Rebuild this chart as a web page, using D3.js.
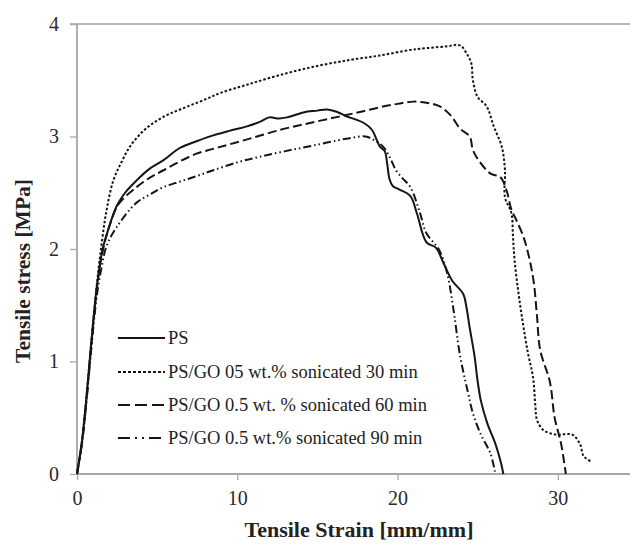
<!DOCTYPE html>
<html>
<head>
<title>Tensile stress-strain</title>
<script src="https://d3js.org/d3.v7.min.js"></script>
<style>
  body { margin: 0; background: #fff; }
  svg text { font-family: "Liberation Serif", "Times New Roman", "DejaVu Serif", serif; }
</style>
</head>
<body>
<div id="chart"></div>
<script>
// strain [mm/mm], stress [MPa]
const psData = [[0,0],[0.3,0.28],[0.55,0.62],[0.85,1.1],[1.25,1.68],[1.6,2.0],[1.9,2.15],[2.47,2.38],[3.0,2.5],[3.72,2.61],[4.5,2.71],[5.4,2.79],[6.43,2.9],[7.5,2.96],[8.5,3.01],[9.5,3.05],[10.6,3.09],[11.4,3.13],[12.0,3.17],[12.6,3.16],[13.1,3.17],[14.3,3.22],[15.0,3.23],[15.6,3.24],[16.2,3.22],[16.8,3.18],[17.4,3.15],[17.9,3.12],[18.4,3.06],[18.7,2.97],[18.9,2.91],[19.2,2.87],[19.35,2.76],[19.5,2.62],[19.7,2.56],[20.1,2.53],[20.8,2.47],[21.2,2.32],[21.8,2.06],[22.4,2.01],[22.85,1.88],[23.4,1.72],[24.1,1.6],[24.3,1.48],[24.5,1.3],[24.8,1.05],[25.0,0.82],[25.2,0.65],[25.6,0.45],[26.1,0.27],[26.45,0.1],[26.6,0]];
const go30Data = [[0,0],[0.3,0.28],[0.55,0.62],[0.85,1.1],[1.25,1.7],[1.54,2.05],[1.85,2.35],[2.27,2.61],[2.8,2.78],[3.3,2.91],[4.0,3.03],[4.76,3.12],[5.6,3.19],[6.43,3.24],[8.0,3.33],[9.0,3.39],[10.6,3.46],[12.5,3.54],[14.75,3.62],[17.0,3.68],[18.9,3.72],[20.8,3.77],[21.4,3.78],[23.0,3.8],[23.9,3.81],[24.3,3.74],[24.6,3.65],[24.7,3.5],[25.0,3.35],[25.55,3.27],[26.0,3.09],[26.5,2.91],[26.7,2.7],[26.7,2.46],[27.1,2.32],[27.2,2.11],[27.3,1.9],[27.6,1.55],[28.1,1.1],[28.45,0.86],[28.6,0.6],[28.7,0.48],[29.1,0.39],[29.9,0.35],[30.9,0.35],[31.4,0.26],[31.6,0.16],[32.1,0.11]];
const go60Data = [[0,0],[0.3,0.27],[0.55,0.6],[0.85,1.08],[1.25,1.66],[1.6,1.98],[2.06,2.22],[2.6,2.4],[3.72,2.55],[4.5,2.63],[5.4,2.7],[6.43,2.78],[7.5,2.85],[8.5,2.89],[9.5,2.93],[11.0,2.99],[12.7,3.06],[14.2,3.11],[15.8,3.16],[17.4,3.21],[18.9,3.26],[20.0,3.29],[21.0,3.31],[21.8,3.3],[22.6,3.27],[23.3,3.19],[23.9,3.07],[24.5,3.0],[24.7,2.88],[25.1,2.78],[25.8,2.67],[26.4,2.64],[26.8,2.52],[27.1,2.35],[27.4,2.26],[27.85,2.11],[28.2,1.93],[28.5,1.7],[28.7,1.4],[28.9,1.1],[29.5,0.82],[29.8,0.5],[30.2,0.27],[30.5,0]];
const go90Data = [[0,0],[0.3,0.26],[0.55,0.58],[0.85,1.05],[1.25,1.6],[1.54,1.84],[1.85,2.03],[2.5,2.2],[3.7,2.41],[4.5,2.48],[5.4,2.55],[6.43,2.6],[7.5,2.65],[8.5,2.7],[10.0,2.77],[11.4,2.82],[13.0,2.87],[14.75,2.92],[16.8,2.98],[18.0,3.0],[18.5,2.97],[19.1,2.91],[19.5,2.82],[19.9,2.7],[20.3,2.63],[20.8,2.55],[21.4,2.32],[21.8,2.14],[22.6,1.99],[23.1,1.78],[23.5,1.45],[23.9,1.05],[24.4,0.72],[24.7,0.54],[25.2,0.35],[25.8,0.18],[26.1,0]];

const seriesNames = ["PS", "PS/GO 05 wt.% sonicated 30 min", "PS/GO 0.5 wt. % sonicated 60 min", "PS/GO 0.5 wt.% sonicated 90 min"];
const xTicks = [0, 10, 20, 30];
const yTicks = [0, 1, 2, 3, 4];

const W = 630, H = 544;
const serif = "'Liberation Serif', 'Times New Roman', 'DejaVu Serif', serif";
const series = [
    { name: seriesNames[0], data: psData, dash: null, legDash: null },
    { name: seriesNames[1], data: go30Data, dash: "2.5,2", legDash: "3,2" },
    { name: seriesNames[2], data: go60Data, dash: "9,4", legDash: "12,5" },
    { name: seriesNames[3], data: go90Data, dash: "8,3,1.5,3,1.5,3", legDash: "12,5,2,5,2,5" }
];

const x = d3.scaleLinear().domain([0, 35]).range([77, 638]);
const y = d3.scaleLinear().domain([0, 4]).range([474, 24]);

const svg = d3.select("#chart").append("svg")
    .attr("width", W).attr("height", H);

svg.append("rect").attr("width", W).attr("height", H).attr("fill", "#fff");

// top gridline at 4
svg.append("line")
    .attr("x1", 70).attr("x2", W)
    .attr("y1", y(4)).attr("y2", y(4))
    .attr("stroke", "#a0a0a0").attr("stroke-width", 1.5);

const axisColor = "#a8a8a8";

const yAxis = svg.append("g")
    .attr("transform", `translate(${x(0)},0)`)
    .call(d3.axisLeft(y).tickValues(yTicks).tickSize(7).tickPadding(11).tickFormat(d3.format("d")));
const xAxis = svg.append("g")
    .attr("transform", `translate(0,${y(0)})`)
    .call(d3.axisBottom(x).tickValues(xTicks).tickSize(6).tickPadding(11).tickFormat(d3.format("d")));

[xAxis, yAxis].forEach(g => {
    g.attr("font-family", serif).attr("font-size", 20);
    g.select(".domain").attr("stroke", axisColor).attr("stroke-width", 1.8);
    g.selectAll(".tick line").attr("stroke", axisColor).attr("stroke-width", 1.3);
    g.selectAll(".tick text").attr("fill", "#2a2a2a");
});
xAxis.select(".domain").attr("d", `M${x(0)},0H${W}`);
yAxis.select(".domain").attr("d", `M0,${y(0)}V${y(4)}`);

const line = d3.line()
    .x(d => x(d[0]))
    .y(d => y(d[1]))
    .curve(d3.curveCatmullRom.alpha(0.5));

svg.append("g").selectAll("path")
    .data(series)
    .join("path")
    .attr("d", d => line(d.data))
    .attr("fill", "none")
    .attr("stroke", "#151515")
    .attr("stroke-width", 2)
    .attr("stroke-dasharray", d => d.dash);

// legend
const legRows = [338, 372, 405, 438];
const leg = svg.append("g").attr("font-family", serif);
series.forEach((s, i) => {
    leg.append("line")
        .attr("x1", 118).attr("x2", 165)
        .attr("y1", legRows[i]).attr("y2", legRows[i])
        .attr("stroke", "#151515").attr("stroke-width", 2)
        .attr("stroke-dasharray", s.legDash);
    leg.append("text")
        .attr("x", 168).attr("y", legRows[i])
        .attr("dy", "0.35em")
        .attr("font-size", 18.5)
        .attr("fill", "#222")
        .text(s.name);
});

// axis titles
svg.append("text")
    .attr("x", 359).attr("y", 529)
    .attr("dy", "0.35em")
    .attr("text-anchor", "middle")
    .attr("font-family", serif)
    .attr("font-size", 22).attr("font-weight", "bold")
    .attr("fill", "#222")
    .text("Tensile Strain [mm/mm]");
svg.append("text")
    .attr("transform", "translate(22,271) rotate(-90)")
    .attr("dy", "0.35em")
    .attr("text-anchor", "middle")
    .attr("font-family", serif)
    .attr("font-size", 21.5).attr("font-weight", "bold")
    .attr("fill", "#222")
    .text("Tensile stress [MPa]");
</script>
</body>
</html>
